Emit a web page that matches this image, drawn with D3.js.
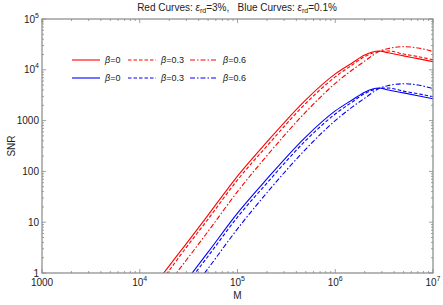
<!DOCTYPE html>
<html>
<head>
<meta charset="utf-8">
<script src="https://cdn.jsdelivr.net/npm/d3@7"></script>
<style>
  body { margin: 0; background: #fff; }
  text { font-family: "Liberation Sans", Arial, sans-serif; fill: #222; }
</style>
</head>
<body>
<script>
// sample masses (shared by all curves)
var masses = [1.6e4, 2e4, 3e4, 5e4, 1e5, 2e5, 5e5, 1e6, 1.5e6, 2e6, 2.8e6, 3.5e6, 5e6, 7e6, 1e7];

// red curves, eps_rd = 3%
var redB0  = [0.79, 1.38, 3.8, 13.8, 81, 380, 2570, 8300, 13800, 19500, 23400, 21600, 18800, 16600, 14500];
var redB03 = [0.63, 1.12, 3.2, 11.5, 68, 316, 2190, 7240, 12600, 18200, 22900, 23400, 20400, 18200, 15800];
var redB06 = [0.37, 0.65, 1.8, 6.6, 40, 204, 1480, 5400, 10000, 14800, 22900, 26300, 28500, 26900, 22900];

// blue curves, eps_rd = 0.1%
var blueB0  = [0.15, 0.26, 0.71, 2.57, 15.1, 71, 479, 1550, 2570, 3630, 4370, 4000, 3510, 3090, 2690];
var blueB03 = [0.12, 0.21, 0.59, 2.14, 12.6, 59, 407, 1350, 2340, 3390, 4270, 4370, 3800, 3390, 2950];
var blueB06 = [0.07, 0.12, 0.34, 1.23, 7.4, 38, 275, 1000, 1860, 2750, 4270, 4900, 5310, 5010, 4270];

var xTicks = [1e3, 1e4, 1e5, 1e6, 1e7];
var yTicks = [1, 10, 100, 1000, 1e4, 1e5];
var betaLabels = ["0", "0.3", "0.6"];

var width = 443, height = 305;
var margin = {left: 42, right: 10, top: 19, bottom: 32};
var plotW = width - margin.left - margin.right;
var plotH = height - margin.top - margin.bottom;

var svg = d3.select("body").append("svg")
    .attr("width", width)
    .attr("height", height);

var x = d3.scaleLog().domain([1e3, 1e7]).range([margin.left, margin.left + plotW]);
var y = d3.scaleLog().domain([1, 1e5]).range([margin.top + plotH, margin.top]);

svg.append("clipPath").attr("id", "clip")
  .append("rect")
    .attr("x", margin.left).attr("y", margin.top)
    .attr("width", plotW).attr("height", plotH);

var dashes = ["none", "3.5,2", "5,2,1.5,2"];
var series = [
  {vals: redB0, color: "#ff0000", dash: 0},
  {vals: redB03, color: "#ff0000", dash: 1},
  {vals: redB06, color: "#ff0000", dash: 2},
  {vals: blueB0, color: "#0000ff", dash: 0},
  {vals: blueB03, color: "#0000ff", dash: 1},
  {vals: blueB06, color: "#0000ff", dash: 2}
];

var line = d3.line()
    .x(function(d) { return x(d[0]); })
    .y(function(d) { return y(d[1]); })
    .curve(d3.curveMonotoneX);

svg.append("g").attr("clip-path", "url(#clip)")
  .selectAll("path")
  .data(series)
  .enter()
  .append("path")
    .attr("d", function(s) { return line(masses.map(function(m, i) { return [m, s.vals[i]]; })); })
    .attr("fill", "none")
    .attr("stroke", function(s) { return s.color; })
    .attr("stroke-width", 1.1)
    .attr("stroke-dasharray", function(s) { return dashes[s.dash]; });

// frame
svg.append("rect")
    .attr("x", margin.left).attr("y", margin.top)
    .attr("width", plotW).attr("height", plotH)
    .attr("fill", "none").attr("stroke", "#888").attr("stroke-width", 1.2);

// minor + major ticks, inward on all sides
function logTicks(lo, hi) {
  var out = [];
  for (var e = lo; e < hi; e++) {
    for (var k = 1; k < 10; k++) out.push({v: k * Math.pow(10, e), major: k === 1});
  }
  out.push({v: Math.pow(10, hi), major: true});
  return out;
}
var tickG = svg.append("g").attr("stroke", "#888").attr("stroke-width", 0.8);
logTicks(3, 7).forEach(function(t) {
  var len = t.major ? 4 : 2;
  var px = x(t.v);
  tickG.append("line").attr("x1", px).attr("x2", px)
    .attr("y1", margin.top + plotH).attr("y2", margin.top + plotH - len);
  tickG.append("line").attr("x1", px).attr("x2", px)
    .attr("y1", margin.top).attr("y2", margin.top + len);
});
logTicks(0, 5).forEach(function(t) {
  var len = t.major ? 4 : 2;
  var py = y(t.v);
  tickG.append("line").attr("y1", py).attr("y2", py)
    .attr("x1", margin.left).attr("x2", margin.left + len);
  tickG.append("line").attr("y1", py).attr("y2", py)
    .attr("x1", margin.left + plotW).attr("x2", margin.left + plotW - len);
});

// tick labels
function powLabel(sel, v) {
  var e = Math.round(Math.log10(v));
  if (e <= 3) { sel.text(String(v)); return; }
  sel.append("tspan").text("10");
  sel.append("tspan").attr("dy", -5).attr("font-size", 7).text(e);
}
xTicks.forEach(function(v) {
  var t = svg.append("text")
    .attr("x", x(v)).attr("y", margin.top + plotH + 13)
    .attr("text-anchor", "middle").attr("font-size", 10);
  powLabel(t, v);
});
yTicks.forEach(function(v) {
  var t = svg.append("text")
    .attr("x", margin.left - 3).attr("y", y(v) + 3.5)
    .attr("text-anchor", "end").attr("font-size", 10);
  powLabel(t, v);
});

// axis titles
svg.append("text")
    .attr("x", margin.left + plotW / 2).attr("y", 299)
    .attr("text-anchor", "middle").attr("font-size", 10).text("M");
svg.append("text")
    .attr("transform", "translate(15," + (margin.top + plotH / 2) + ") rotate(-90)")
    .attr("text-anchor", "middle").attr("font-size", 10).text("SNR");

// title
var title = svg.append("text")
    .attr("x", 237).attr("y", 11)
    .attr("text-anchor", "middle").attr("font-size", 10);
title.append("tspan").text("Red Curves: ");
title.append("tspan").attr("font-style", "italic").text("\u03B5");
title.append("tspan").attr("font-size", 7).attr("dy", 2).text("rd");
title.append("tspan").attr("dy", -2).text("=3%,\u00A0\u00A0\u00A0Blue Curves: ");
title.append("tspan").attr("font-style", "italic").text("\u03B5");
title.append("tspan").attr("font-size", 7).attr("dy", 2).text("rd");
title.append("tspan").attr("dy", -2).text("=0.1%");

// legend
var legX = [72, 128, 190];
var legY = [60, 78];
var legColors = ["#ff0000", "#0000ff"];
legY.forEach(function(ly, r) {
  legX.forEach(function(lx, c) {
    svg.append("line")
      .attr("x1", lx).attr("x2", lx + 28)
      .attr("y1", ly).attr("y2", ly)
      .attr("stroke", legColors[r]).attr("stroke-width", 1.1)
      .attr("stroke-dasharray", dashes[c]);
    var t = svg.append("text")
      .attr("x", lx + 33).attr("y", ly + 3.3)
      .attr("font-size", 9);
    t.append("tspan").attr("font-style", "italic").text("\u03B2");
    t.append("tspan").text("=" + betaLabels[c]);
  });
});
</script>
</body>
</html>
